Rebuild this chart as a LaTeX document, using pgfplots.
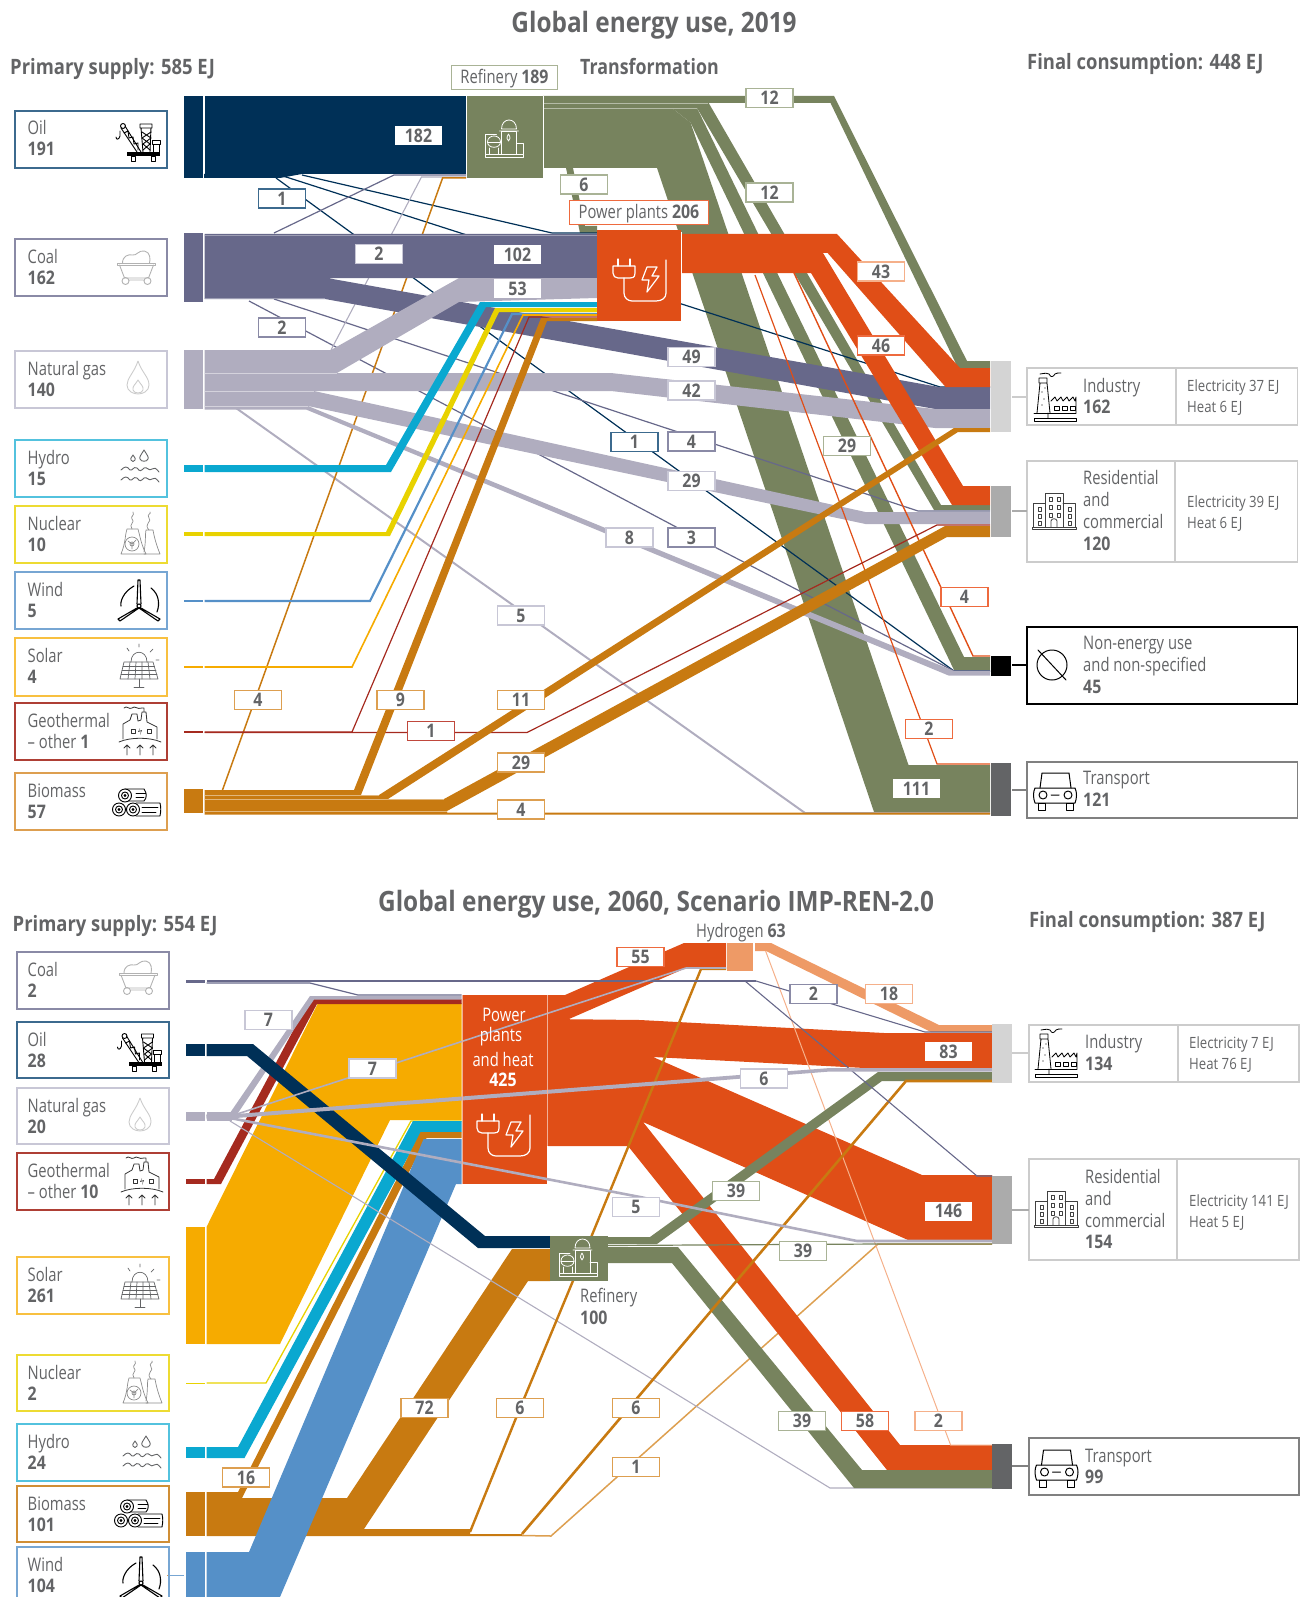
\documentclass[border=0pt]{standalone}
\usepackage{fontspec}
\setmainfont[FakeStretch=0.85]{Open Sans}
\newfontfamily\bodyf[FakeStretch=0.79,BoldFeatures={FakeStretch=0.85}]{Open Sans}
\newfontfamily\headf[FakeStretch=0.87]{Open Sans}
\usepackage{pgfplots}
\pgfplotsset{compat=1.18}

\definecolor{navy}{HTML}{003057}
\definecolor{coal}{HTML}{67688A}
\definecolor{gas}{HTML}{B0ADBF}
\definecolor{ref}{HTML}{77835E}
\definecolor{elec}{HTML}{E04E17}
\definecolor{bio}{HTML}{C87A11}
\definecolor{hydro}{HTML}{0AA8D0}
\definecolor{nuc}{HTML}{E8D200}
\definecolor{wind}{HTML}{5590C8}
\definecolor{solar}{HTML}{F6AB00}
\definecolor{geo}{HTML}{A52A1F}
\definecolor{hyd}{HTML}{EE9A66}
\definecolor{txt}{HTML}{636466}
\definecolor{bnavy}{HTML}{3C6A8E}
\definecolor{bcoal}{HTML}{8A8AA6}
\definecolor{bgas}{HTML}{C8C7D6}
\definecolor{bref}{HTML}{A9B396}
\definecolor{belec}{HTML}{EE6A3E}
\definecolor{bbio}{HTML}{DD9F50}
\definecolor{bgeo}{HTML}{C0483C}
\definecolor{bhyd}{HTML}{F5B08A}

\newcommand{\band}[2]{\addplot[fill=#1,draw=none,forget plot] coordinates {#2} --cycle;}
\newcommand{\flow}[3]{\addplot[draw=#1,line width=#2,forget plot] coordinates {#3};}
\newcommand{\lab}[4]{\node[draw=#3,fill=white,line width=1.2pt,minimum width=47pt,minimum height=19pt,inner sep=0pt,font=\fontsize{18.7}{20}\selectfont\bodyf\bfseries,text=txt] at (axis cs:#1,#2) {#4};}
\newcommand{\plainlab}[3]{\node[fill=white,minimum width=47pt,minimum height=19pt,inner sep=0pt,font=\fontsize{18.7}{20}\selectfont\bodyf\bfseries,text=txt] at (axis cs:#1,#2) {#3};}
\newcommand{\tx}[3]{\node[anchor=base west,inner sep=0pt,font=\fontsize{18.7}{20}\selectfont\bodyf,text=txt] at (axis cs:#1,#2) {#3};}
\newcommand{\sm}[3]{\node[anchor=base west,inner sep=0pt,font=\fontsize{15.5}{18}\selectfont,text=txt] at (axis cs:#1,#2) {#3};}
\newcommand{\hd}[3]{\node[anchor=base west,inner sep=0pt,font=\fontsize{21.2}{24}\selectfont\headf\bfseries,text=txt] at (axis cs:#1,#2) {#3};}
\newcommand{\frameb}[5]{\draw[#5,line width=1.2pt] (axis cs:#1,#2) rectangle (axis cs:#3,#4);}
\newcommand{\srcb}[7]{\frameb{#1}{#3}{#2}{#4}{#5}
  \pgfmathsetmacro{\tmpx}{#1+10.5}
  \tx{\tmpx}{\numexpr#3+24\relax}{#6}
  \tx{\tmpx}{\numexpr#3+45\relax}{\textbf{#7}}
  \pgfmathsetmacro{\tmpy}{(#3+#4)/2}
  \draw[#5,line width=1.2pt] (axis cs:#2,\tmpy) -- (axis cs:#2+15,\tmpy);}
\newcommand{\icon}[3]{\path (axis cs:#1,#2) pic {#3};}

\tikzset{
  ic/.style={x=1pt,y=-1pt,line width=.9pt,line join=round,line cap=round},
  oilic/.pic={\begin{scope}[ic,black]
    \fill (-11,12) rectangle (22,16);
    \draw (-7,16) rectangle (-3,21) (13,16) rectangle (17,21);
    \draw (-17,-12) -- (-1,12) (-13,-14) -- (3,12);
    \draw (-14,-7) -- (-10,-9) -- (-9,-2) -- (-5,-3) -- (-4,4) -- (0,3) -- (0,10);
    \draw (-15,-14) circle (2.5pt);
    \draw (-18,-9) -- (-18,-4) .. controls (-19,0) and (-22,0) .. (-22,-3);
    \draw (3,-12) -- (5,12) (13,-12) -- (12,12) (2,-16) rectangle (14,-12);
    \draw (4,-8) -- (13,-2) -- (5,4) -- (12,10) (13,-8) -- (4,-2) -- (12,4) -- (5,10);
    \draw (14,0) rectangle (22,4) (15,4) rectangle (21,12);
  \end{scope}},
  coalic/.pic={\begin{scope}[ic,draw=black!30]
    \draw (-19,-5) -- (19,-5) -- (19,-3) -- (-19,-3) -- cycle;
    \draw (-17,-3) -- (-12,10) -- (12,10) -- (17,-3);
    \draw (-14,-5) .. controls (-14,-12) and (-8,-14) .. (-4,-13) .. controls (0,-12) and (2,-18) .. (8,-17) .. controls (14,-16) and (14,-8) .. (13,-5);
    \draw (-11,13) circle (3.5pt) (11,13) circle (3.5pt) (-7,12) -- (7,12);
  \end{scope}},
  flameic/.pic={\begin{scope}[ic,draw=black!20]
    \draw (0,-17) .. controls (-4,-5) and (-11,0) .. (-11,7) .. controls (-11,13) and (-5,16) .. (0,16) .. controls (5,16) and (11,13) .. (11,7) .. controls (11,-1) and (4,-5) .. (0,-17);
    \draw (0,2) .. controls (-2,6) and (-6,8) .. (-5,12) .. controls (-4,16) and (4,16) .. (5,12) .. controls (6,8) and (2,6) .. (0,2);
  \end{scope}},
  hydroic/.pic={\begin{scope}[ic,draw=txt]
    \draw (4,-18) .. controls (1,-13) and (-1,-11) .. (0,-9) .. controls (1,-6) and (7,-6) .. (8,-9) .. controls (9,-11) and (7,-13) .. (4,-18);
    \draw (-7,-13) .. controls (-9,-10) and (-10,-9) .. (-9,-8) .. controls (-8,-6) and (-6,-6) .. (-5,-8) .. controls (-4,-9) and (-5,-10) .. (-7,-13);
    \foreach \yy in {2,12} {\draw (-19,\yy) .. controls (-15,\yy-4) and (-13,\yy-4) .. (-10,\yy) .. controls (-7,\yy+1) and (-7,\yy-4) .. (-3,\yy-2) .. controls (0,\yy+2) and (1,\yy+1) .. (4,\yy-2) .. controls (7,\yy-4) and (9,\yy+2) .. (12,\yy-1) .. controls (14,\yy-3) and (16,\yy-2) .. (19,\yy+2);}
  \end{scope}},
  nucic/.pic={\begin{scope}[ic,draw=black!45,line width=.7pt]
    \draw (-19,20) .. controls (-14,8) and (-15,0) .. (-13,-5) -- (-2,-5) .. controls (0,2) and (1,10) .. (6,20) -- cycle;
    \draw (4,18) .. controls (6,8) and (5,0) .. (6,-4) -- (13,-4) .. controls (14,2) and (16,10) .. (20,20) -- (4,20);
    \draw (-8,10) circle (7pt) (-8,10) circle (2pt) (-8,10) -- (-4,6) (-8,10) -- (-12,7) (-8,10) -- (-8,15);
    \draw (-8,-5) .. controls (-12,-10) and (-4,-12) .. (-8,-15) .. controls (-10,-18) and (-5,-18) .. (-7,-22);
    \draw (9,-4) .. controls (3,-10) and (13,-13) .. (9,-16) .. controls (6,-20) and (12,-20) .. (10,-22) ;
  \end{scope}},
  windic/.pic={\begin{scope}[ic,black,line width=1.1pt]
    \draw (0,6) circle (2pt);
    \draw (-2,4) -- (-1,-20) -- (1,-20) -- (2,4);
    \draw (-2,8) -- (-21,19) -- (-19,21) -- (0,8);
    \draw (2,8) -- (21,19) -- (19,21) -- (0,8);
    \draw (-5,-14) .. controls (-16,-8) and (-19,2) .. (-18,6);
    \draw (12,-12) .. controls (20,-6) and (21,4) .. (18,12);
  \end{scope}},
  solaric/.pic={\begin{scope}[ic,draw=txt,line width=.7pt]
    \draw (-15,-5) -- (14,-5) -- (19,12) -- (-19,12) -- cycle;
    \draw (-17,3) -- (17,3) (-16,-1) -- (15.5,-1) (-18,7) -- (18,7);
    \draw (-9,-5) -- (-11,12) (-3,-5) -- (-4,12) (3,-5) -- (3,12) (9,-5) -- (11,12);
    \draw (0,12) -- (0,20) (-5,20) -- (5,20);
    \draw (-8,-5) .. controls (-8,-18) and (8,-18) .. (8,-5);
    \draw (0,-20) -- (0,-23) (-10,-16) -- (-12,-19) (11,-15) -- (14,-18) (17,-7) -- (20,-7);
  \end{scope}},
  geoic/.pic={\begin{scope}[ic,draw=black!80,line width=.8pt]
    \draw (-17,7) -- (-17,-8) -- (-10,-12) -- (-8,-18) -- (-3,-18) -- (-2,-11) -- (1,-12) -- (2,-20) -- (6,-20) -- (7,-10) -- (17,-5) -- (17,7);
    \draw (-9,-3) rectangle (-5,1) (7,-3) rectangle (11,1);
    \fill[black!80] (0,-4) -- (-2,0) -- (1,-1) -- (0,3) -- (2,-2) -- (-1,-1) -- cycle;
    \draw (-21,10) .. controls (-10,5) and (10,5) .. (21,10);
    \draw (-13,23) -- (-13,13) (-16,16) -- (-13,13) -- (-10,16);
    \draw (0,23) -- (0,13) (-3,16) -- (0,13) -- (3,16);
    \draw (13,23) -- (13,13) (10,16) -- (13,13) -- (16,16);
    \draw (-16,-24) .. controls (-13,-27) and (-11,-22) .. (-8,-24) .. controls (-5,-27) and (-3,-22) .. (2,-24) -- (4,-24) -- (4,-20);
  \end{scope}},
  bioic/.pic={\begin{scope}[ic,black]
    \draw (-11,-13) -- (8,-13) .. controls (11,-9) and (11,-4) .. (8,-1) -- (-11,-1);
    \fill[white] (-11,-6.5) circle (6.5pt);
    \draw (-11,-6.5) circle (6.5pt) (-11,-6.5) circle (3.5pt) (-11,-6.5) circle (1pt);
    \draw (0,1) -- (24,1) .. controls (25,5) and (25,9) .. (24,14) -- (0,14);
    \fill[white] (-3,7.5) circle (6.5pt);
    \draw (-3,7.5) circle (6.5pt) (-3,7.5) circle (3.5pt) (-3,7.5) circle (1pt);
    \fill[white] (-17,7.5) circle (6.5pt);
    \draw (-17,7.5) circle (6.5pt) (-17,7.5) circle (3.5pt) (-17,7.5) circle (1pt);
    \draw (6,5) -- (22,5) (6,10) -- (20,10) (0,-9) -- (10,-9) (0,-5) -- (8,-5);
  \end{scope}},
  factic/.pic={\begin{scope}[ic,black,line width=.8pt]
    \draw (-21,21) rectangle (21,24) (-21,16) -- (21,16);
    \draw (-18,16) -- (-15,-14) -- (-8,-14) -- (-5,16) (-16,-14) rectangle (-8,-19) (-7,21) -- (-7,16);
    \draw (-4,4) -- (0,0) -- (2,4) -- (6,0) -- (8,4) -- (12,0) -- (14,4) -- (18,0) -- (20,4) -- (21,0) -- (21,16);
    \draw (-1,9) rectangle (4,13) (7,9) rectangle (12,13) (15,9) rectangle (20,13);
    \draw (-15,-23) .. controls (-9,-24) and (-8,-24) .. (-6,-23) .. controls (-4,-19) and (-2,-20) .. (0,-23) .. controls (1,-24) and (3,-24) .. (6,-24);
    \fill (-13,-5) circle (.6pt) (-11,2) circle (.6pt) (-13,8) circle (.6pt) (-10,-9) circle (.6pt);
  \end{scope}},
  buildic/.pic={\begin{scope}[ic,draw=black!75,line width=.8pt]
    \draw (-22,17) rectangle (22,19);
    \draw (-21,17) -- (-21,-7) -- (-9,-7) (9,-7) -- (21,-7) -- (21,17);
    \draw (-9,17) -- (-9,-17) -- (9,-17) -- (9,17);
    \foreach \yy in {-13,-5,3} {\draw (-5,\yy) rectangle (-2,\yy+4) (3,\yy) rectangle (6,\yy+4);}
    \foreach \yy in {-3,4,11} {\draw (-16,\yy) rectangle (-13,\yy+4) (14,\yy) rectangle (17,\yy+4);}
    \draw (-3,17) -- (-3,11) .. controls (-3,8) and (3,8) .. (3,11) -- (3,17);
  \end{scope}},
  nonic/.pic={\begin{scope}[ic,black,line width=1pt]
    \draw (0,0) circle (15pt);
    \draw (-14,-15) -- (14,15);
  \end{scope}},
  caric/.pic={\begin{scope}[ic,black,line width=1pt]
    \draw (-15,-2) -- (-13,-17) -- (14,-17) -- (16,-2);
    \draw (-20,-2) -- (20,-2) .. controls (22,2) and (22,8) .. (20,13) -- (-20,13) .. controls (-22,8) and (-22,2) .. (-20,-2);
    \draw (-12,5) circle (4pt) (13,5) circle (4pt) (-4,5) -- (4,5);
    \draw (-17,13) rectangle (-10,20) (11,13) rectangle (18,20);
  \end{scope}},
  plugic/.pic={\begin{scope}[ic,white,line width=1.2pt]
    \draw (-26,-11) -- (-4,-11) -- (-4,-4) .. controls (-4,1) and (-7,1) .. (-9,1) -- (-21,1) .. controls (-24,1) and (-26,-1) .. (-26,-4) -- cycle;
    \draw (-21,-11) -- (-21,-18) (-9,-11) -- (-9,-18);
    \draw (-15,1) -- (-15,16) .. controls (-15,21) and (-11,24) .. (-7,24) -- (17,24) .. controls (23,24) and (27,21) .. (27,16) -- (27,-17);
    \draw (8,-10) -- (18,-10) -- (13,-1) -- (20,-1) -- (8,15) -- (10,3) -- (3,3) -- cycle;
  \end{scope}},
  refic/.pic={\begin{scope}[ic,white,line width=.8pt]
    \draw (-19,18) rectangle (19,15) (-19,15) -- (-19,-5) -- (-8,-5);
    \draw (-3,15) -- (-3,-8) -- (12,-8) -- (12,15);
    \draw (-5,-8) -- (14,-8) (-3,-10) .. controls (-3,-22) and (12,-22) .. (12,-10) -- (-3,-10);
    \draw (12,4) -- (19,4) -- (19,15);
    \draw (-17,3) .. controls (-17,-5) and (-4,-5) .. (-4,3) .. controls (-4,10) and (-17,10) .. (-17,3);
    \draw (-17,3) -- (-4,3) (-15,9) -- (-15,15) (-6,9) -- (-6,15);
    \draw (4,-5) .. controls (2,-2) and (2,1) .. (4,2) .. controls (6,1) and (6,-2) .. (4,-5);
  \end{scope}},
  refsm/.pic={\begin{scope}[scale=.84]\pic {refic};\end{scope}}
}

\begin{document}
\begin{tikzpicture}
\useasboundingbox (0,0) rectangle (1302pt,1597pt);
\begin{axis}[
  at={(0,0)}, anchor=south west,
  scale only axis, width=1302pt, height=1597pt,
  xmin=0, xmax=1302, ymin=0, ymax=1597, y dir=reverse,
  hide axis, clip=false,
]

%% ---------- 2019 ----------
% refinery outputs
\band{ref}{(543,96)(834,96)(967,361)(990,361)(990,368)(958,368)(830.5,103)(543,103)}
\band{ref}{(543,103)(708.7,103)(941,505)(990,505)(990,510)(934,510)(697,108)(543,108)}
\band{ref}{(543,108)(697,108)(964,657)(990,657)(990,670)(954,670)(690.6,122.7)(672,108)}
\band{ref}{(543,108)(672,108)(690.6,122.7)(908.5,765)(990,765)(990,812)(874,812)(657,168)(543,168)}
\band{ref}{(566,168)(573,168)(585,226)(597,226)(597,233)(580,233)}
\flow{white!45!ref}{.7pt}{(543,103)(708,103)}
\flow{white!45!ref}{.7pt}{(543,108)(697,108)}
% thin lines that run under the wide bands
\band{navy}{(204,174)(302,174)(280,178)(204,178)}
\flow{navy}{1.2pt}{(276,178)(954,671)(990,671)}
\flow{navy}{1.2pt}{(283,176)(940,387)(990,387)}
\flow{navy}{1.2pt}{(302,175)(552,233)(597,233)}
\flow{coal}{1.2pt}{(274,233)(394,175)(466,175)}
\flow{coal}{1.2pt}{(274,299)(678,432)(918,511)(990,511)}
\flow{coal}{1.2pt}{(249,301)(678,528)(954,671)(990,671)}
\flow{gas}{1.1pt}{(331,350)(421.5,177)(466,177)}
\flow{gas}{2pt}{(236,408)(805,813)(990,813)}
\flow{bio}{1.5pt}{(222.5,790)(442.6,178)(466,178)}
% primary bands
\band{navy}{(204.5,96)(466,96)(466,174)(204.5,174)}
\band{coal}{(204.5,234)(597,234)(597,278)(327,278)(939,387)(990,387)(990,409)(935,409)(325,299)(204.5,299)}
\band{gas}{(204.5,350)(331,350)(459,278)(597,278)(597,298)(459,302)(337,373)(204.5,373)}
\band{gas}{(204.5,373)(611,373)(935,409)(990,409)(990,428)(935,428)(611,391)(204.5,391)}
\band{gas}{(204.5,391)(314,391)(865.5,512)(990,512)(990,524)(865.5,524)(308,406)(204.5,406)}
\band{gas}{(204.5,406)(308,406)(954,671)(990,671)(990,675.7)(949,675.7)(306,409.5)(204.5,409.5)}
\flow{white!45!gas}{.7pt}{(204.5,373)(337,373)}
\flow{white!45!gas}{.7pt}{(204.5,391)(314,391)}
\flow{white!45!gas}{.7pt}{(204.5,406)(308,406)}
\flow{white!35!coal}{.7pt}{(204.5,235)(597,235)}
\flow{white!35!coal}{.7pt}{(204.5,298.5)(325,298.5)}
% source bars
\band{navy}{(184,96)(203,96)(203,178)(184,178)}
\band{coal}{(184,233)(203,233)(203,302)(184,302)}
\band{gas}{(184,350)(203,350)(203,409)(184,409)}
\band{hydro}{(184,465)(203,465)(203,472)(184,472)}
\band{nuc}{(184,532)(203,532)(203,536)(184,536)}
\band{wind}{(184,600)(203,600)(203,602)(184,602)}
\band{solar}{(184,666)(203,666)(203,668)(184,668)}
\band{geo}{(184,731)(203,731)(203,733)(184,733)}
\band{bio}{(184,789)(203,789)(203,813)(184,813)}
% electricity
\band{elec}{(681,234)(837,234)(960,368)(990,368)(990,387)(945.6,387)(827.6,253)(681,253)}
\band{elec}{(681,253)(823,253)(963,486)(990,486)(990,505)(952,505)(811,273)(681,273)}
\flow{elec}{1.4pt}{(794,273)(973,656)(990,656)}
\flow{elec}{1.2pt}{(755,275)(937,764)(990,764)}
% renewables and biomass
\band{hydro}{(204.5,465)(386,465)(480,302)(597,302)(597,307)(486,307)(391,472)(204.5,472)}
\band{nuc}{(204.5,532)(386,532)(495,308)(597,308)(597,312)(499,312)(390,536)(204.5,536)}
\flow{wind}{2.2pt}{(204.5,601)(370,601)(512,314)(597,314)}
\flow{solar}{1.6pt}{(204.5,667)(352,667)(523,315)(597,315)}
\flow{geo}{1.2pt}{(204.5,732)(352,732)(529,317)(597,317)}
\flow{geo}{1.2pt}{(204.5,732.5)(527,732.5)(937,525)(990,525)}
\band{bio}{(204.5,790)(354,790)(541,318)(597,318)(597,321)(547,321)(361,795)(204.5,795)}
\band{bio}{(204.5,795)(379,795)(954,428)(990,428)(990,432)(958,432)(388,799)(204.5,799)}
\band{bio}{(204.5,799)(444,799)(945,526)(990,526)(990,537)(947,537)(447,811)(204.5,811)}
\band{bio}{(204.5,811)(447,811)(447,812.5)(990,812.5)(990,814.5)(204.5,814.5)}
\flow{white!45!bio}{.7pt}{(204.5,795)(379,795)}
\flow{white!45!bio}{.7pt}{(204.5,799)(444,799)}
\flow{white!45!bio}{.7pt}{(204.5,811)(447,811)}
% transformation and final bars
\band{navy}{(204.5,96)(466,96)(466,174)(204.5,174)}
\band{ref}{(467,96)(543,96)(543,178)(467,178)}
\band{elec}{(597,230)(681,230)(681,320.7)(597,320.7)}
\band{black!17}{(991,361)(1011,361)(1011,432)(991,432)}
\band{black!33}{(991,486)(1011,486)(1011,537)(991,537)}
\band{black}{(991,656)(1011,656)(1011,676)(991,676)}
\band{txt}{(991,763)(1011,763)(1011,816)(991,816)}
\flow{white}{.8pt}{(543.5,96)(543.5,168)}
\flow{white}{.8pt}{(681.5,232)(681.5,275)}
\icon{504.5}{139}{refic}
\icon{639}{277}{plugic}

\node[font=\fontsize{28}{30}\selectfont\headf\bfseries,text=txt,inner sep=0pt] at (axis cs:654,25.5) {Global energy use, 2019};
\hd{10}{74.5}{Primary supply: 585 EJ}
\hd{580}{74.5}{\scalebox{.965}[1]{Transformation}}
\hd{1027}{69.5}{Final consumption: 448 EJ}

\srcb{15}{167}{111}{168}{bnavy}{Oil}{191}
\srcb{15}{167}{239}{296}{bcoal}{Coal}{162}
\srcb{15}{167}{351}{408}{bgas}{Natural gas}{140}
\srcb{15}{167}{440}{497}{hydro!70}{Hydro}{15}
\srcb{15}{167}{506}{563}{nuc!80}{Nuclear}{10}
\srcb{15}{167}{572}{629}{wind!80}{Wind}{5}
\srcb{15}{167}{638}{696}{solar!75}{Solar}{4}
\srcb{15}{167}{703}{760}{geo!90}{Geothermal}{{\mdseries – other }1}
\srcb{15}{167}{773}{830}{bbio}{Biomass}{57}
\icon{138}{140}{oilic}
\icon{136.5}{268}{coalic}
\icon{138}{378}{flameic}
\icon{140}{468}{hydroic}
\icon{140}{534}{nucic}
\icon{139}{600}{windic}
\icon{139}{667}{solaric}
\icon{140}{732}{geoic}
\icon{136}{802}{bioic}

% refinery and plant captions
\node[draw=bref,fill=white,line width=1.2pt,minimum width=106pt,minimum height=24pt,inner sep=0pt,font=\fontsize{18.7}{20}\selectfont\bodyf,text=txt,text height=13pt,text depth=0pt] at (axis cs:504.5,77.5) {Refinery \textbf{189}};
\node[draw=belec,fill=white,line width=1.2pt,minimum width=139pt,minimum height=24pt,inner sep=0pt,font=\fontsize{18.7}{20}\selectfont\bodyf,text=txt,text height=13pt,text depth=0pt] at (axis cs:639,212.5) {Power plants \textbf{206}};

% final boxes
\frameb{1027}{368}{1297.5}{425}{black!20}
\draw[black!20,line width=1.2pt] (axis cs:1176,368) -- (axis cs:1176,425);
\draw[black!20,line width=1.2pt] (axis cs:1012,397) -- (axis cs:1027,397);
\tx{1083}{392}{Industry}\tx{1083}{413}{\textbf{162}}
\sm{1187}{391}{Electricity 37 EJ}\sm{1187}{412}{Heat 6 EJ}
\frameb{1027}{461}{1297.5}{562}{black!20}
\draw[black!20,line width=1.2pt] (axis cs:1175,461) -- (axis cs:1175,562);
\draw[black!33,line width=1.2pt] (axis cs:1012,511) -- (axis cs:1027,511);
\tx{1083}{484}{Residential}\tx{1083}{506}{and}\tx{1083}{528}{commercial}\tx{1083}{550}{\textbf{120}}
\sm{1187}{507}{Electricity 39 EJ}\sm{1187}{528}{Heat 6 EJ}
\frameb{1027}{627}{1297.5}{704}{black}
\draw[black,line width=1.2pt] (axis cs:1012,665) -- (axis cs:1027,665);
\tx{1083}{649}{Non-energy use}\tx{1083}{671}{and non-specified}\tx{1083}{693}{\textbf{45}}
\frameb{1027}{762}{1297.5}{818}{black!50}
\draw[black!50,line width=1.2pt] (axis cs:1012,790) -- (axis cs:1027,790);
\tx{1083}{784}{Transport}\tx{1083}{806}{\textbf{121}}
\icon{1055}{397}{factic}
\icon{1054}{510}{buildic}
\icon{1052}{665}{nonic}
\icon{1055}{790}{caric}

% value labels
\plainlab{418.5}{136}{182}
\plainlab{517.5}{255}{102}
\plainlab{517.5}{288.5}{53}
\plainlab{916.5}{788.5}{111}
\lab{769.5}{98}{bref}{12}
\lab{769.5}{192.5}{bref}{12}
\lab{584}{184.5}{bref}{6}
\lab{881}{271.5}{bhyd}{43}
\lab{881}{345.5}{belec}{46}
\lab{691.5}{357}{bgas}{49}
\lab{691.5}{390.5}{bgas}{42}
\lab{847}{446}{bref}{29}
\lab{634.5}{442}{bnavy}{1}
\lab{691.5}{441.5}{bcoal}{4}
\lab{691.5}{481}{bgas}{29}
\lab{691.5}{537.5}{bcoal}{3}
\lab{629.5}{537.5}{bgas}{8}
\lab{964.5}{597}{belec}{4}
\lab{521}{615.5}{bgas}{5}
\lab{929}{729}{belec}{2}
\lab{258}{700}{bbio}{4}
\lab{400.5}{700}{bbio}{9}
\lab{521}{700}{bbio}{11}
\lab{431}{731}{bgeo}{1}
\lab{521}{762.5}{bbio}{29}
\lab{521}{809.5}{bbio}{4}
\lab{282}{198.5}{bnavy}{1}
\lab{379}{254}{bgas}{2}
\lab{282}{327.5}{bcoal}{2}

%% ---------- 2060 ----------
\band{solar}{(206.5,1227)(318,1003)(461.5,1003)(461.5,1120)(390,1120)(280,1344)(206.5,1344)}
\band{geo}{(206.5,1179)(214,1179)(310,999)(461.5,999)(461.5,1004)(317,1004)(221,1184)(206.5,1184)}
\band{gas}{(230,1113)(310,996)(461.5,996)(461.5,999.5)(314,999.5)(236,1116)}
\flow{coal}{1.2pt}{(206.5,983)(310,983)(358,995)(461.5,995)}
\flow{nuc}{1.3pt}{(206.5,1383)(266,1383)(411,1121)(461.5,1121)}
\band{hydro}{(206.5,1447)(238,1447)(413,1121)(461.5,1121)(461.5,1132)(421.5,1132)(244.5,1458)(206.5,1458)}
\band{bio}{(206.5,1492)(238,1492)(420.6,1132)(461.5,1132)(461.5,1138)(426.5,1138)(242,1498)(347,1498)(512,1249)(550,1249)(550,1281)(528,1281)(364,1529)(470,1529)(470,1534)(522,1534)(522,1536)(206.5,1536)}
\flow{bbio}{1.5pt}{(522,1535.5)(551,1536)(878,1244)(992,1244)}
\band{wind}{(206.5,1552)(249,1552)(423.6,1139)(461.5,1139)(461.5,1184)(456,1184)(280,1597)(206.5,1597)}
\flow{gas}{1.1pt}{(230,1121)(830,1488)(992,1488)}
% power plant outputs
\band{elec}{(548,995)(565,995)(684,943)(726,943)(726,968)(686,968)(569,1019)(548,1019)}
\band{elec}{(548,1019)(640,1020)(884,1033)(992,1033)(992,1069)(884,1069)(653,1057)(922,1175)(992,1175)(992,1240)(908,1240)(643,1122)(900,1445)(992,1445)(992,1470)(887,1470)(628,1146)(548,1146)}
\band{elec}{(462,995)(547,995)(547,1184)(462,1184)}
% hydrogen
\band{hyd}{(755,943)(771,943)(939,1025)(992,1025)(992,1032)(931,1032)(766,951)(755,951)}
\flow{bhyd}{1pt}{(765.6,951)(950.6,1445)(992,1445)}
% refinery outputs
\flow{ref}{1.2pt}{(607,1245.5)(878,1244)(992,1244)}
\band{ref}{(607,1237)(650,1237)(878,1072)(992,1072)(992,1081)(882,1081)(657,1244)(607,1244)}
\band{ref}{(607,1247)(678,1247)(862,1470)(992,1470)(992,1488)(854,1488)(672,1263)(607,1263)}
% biomass lines over the electricity bands
\flow{bio}{2.4pt}{(470,1532)(516,1418)(592,1235)(661,1067)(701,969)(726,969)}
\flow{bio}{2.6pt}{(522,1534)(906,1081)(992,1081)}
% oil
\band{navy}{(206.5,1044)(253,1044)(485,1236)(550,1236)(550,1248)(478,1248)(247,1056)(206.5,1056)}
% coal and gas lines
\flow{coal}{2.4pt}{(206.5,981)(745,981)(756,981)}
\flow{coal}{1.1pt}{(745,981)(977,1176)(992,1176)}
\flow{coal}{1.1pt}{(756,981)(925,1032)(992,1032)}
\flow{gas}{1.6pt}{(206.5,1116)(234,1115)(348,1078)(396,1063)(686,968)(726,968)}
\band{gas}{(206.5,1114)(236,1114)(661,1081)(830,1068)(992,1068)(992,1071.5)(830,1071.5)(661,1085)(236,1118)(206.5,1118)}
\flow{gas}{2.6pt}{(206.5,1118)(230,1118)(640,1197)(857,1241)(992,1241)}
% source bars and boxes
\band{coal}{(186,979.5)(204.5,979.5)(204.5,983)(186,983)}
\band{navy}{(186,1044)(204.5,1044)(204.5,1056)(186,1056)}
\band{gas}{(186,1112)(204.5,1112)(204.5,1121)(186,1121)}
\band{gas}{(206.5,1112)(232,1112)(232,1121)(206.5,1121)}
\band{geo}{(186,1179)(204.5,1179)(204.5,1184)(186,1184)}
\band{solar}{(186,1227)(204.5,1227)(204.5,1344)(186,1344)}
\band{nuc}{(186,1382.5)(204.5,1382.5)(204.5,1384)(186,1384)}
\band{hydro}{(186,1447)(204.5,1447)(204.5,1458)(186,1458)}
\band{bio}{(186,1492)(204.5,1492)(204.5,1536)(186,1536)}
\band{wind}{(186,1552)(204.5,1552)(204.5,1597)(186,1597)}
\band{hyd}{(727,943)(753,943)(753,971)(727,971)}
\band{ref}{(550,1236)(607.5,1236)(607.5,1281)(550,1281)}
\band{black!17}{(992,1024)(1012,1024)(1012,1083)(992,1083)}
\band{black!33}{(992,1176)(1012,1176)(1012,1244)(992,1244)}
\band{txt}{(992,1444)(1012,1444)(1012,1489)(992,1489)}
\flow{white!55!elec}{.8pt}{(547.5,995)(547.5,1146)}
\flow{white!55!elec}{.8pt}{(462,995)(462,1184)}
\icon{503}{1132}{plugic}
\icon{578}{1258}{refsm}
\node[font=\fontsize{18.7}{20}\selectfont\bodyf,text=white,inner sep=0pt] at (axis cs:504,1015) {Power};
\node[font=\fontsize{18.7}{20}\selectfont\bodyf,text=white,inner sep=0pt] at (axis cs:501,1037) {plants};
\node[font=\fontsize{18.7}{20}\selectfont\bodyf,text=white,inner sep=0pt] at (axis cs:503,1059) {and heat};
\node[font=\fontsize{18.7}{20}\selectfont\bodyf\bfseries,text=white,inner sep=0pt] at (axis cs:503,1079.5) {425};

\node[font=\fontsize{28}{30}\selectfont\headf\bfseries,text=txt,inner sep=0pt] at (axis cs:656,904.5) {Global energy use, 2060, Scenario IMP-REN-2.0};
\hd{12.5}{931.5}{Primary supply: 554 EJ}
\hd{1029}{927.5}{Final consumption: 387 EJ}
\tx{696}{937}{Hydrogen \textbf{63}}
\tx{580}{1302}{Refinery}
\tx{580}{1324}{\textbf{100}}

\srcb{17}{169}{952}{1009}{bcoal}{Coal}{2}
\srcb{17}{169}{1022}{1078}{bnavy}{Oil}{28}
\srcb{17}{169}{1088}{1144}{bgas}{Natural gas}{20}
\srcb{17}{169}{1153}{1210}{geo!90}{Geothermal}{{\mdseries – other }10}
\srcb{17}{169}{1257}{1314}{solar!75}{Solar}{261}
\srcb{17}{169}{1355}{1411}{nuc!80}{Nuclear}{2}
\srcb{17}{169}{1424}{1481}{hydro!70}{Hydro}{24}
\srcb{17}{169}{1486}{1542}{bio!85}{Biomass}{101}
\srcb{17}{169}{1547}{1604}{wind!80}{Wind}{104}
\icon{138}{978}{coalic}
\icon{139.5}{1050}{oilic}
\icon{140}{1115}{flameic}
\icon{142}{1182}{geoic}
\icon{140}{1287}{solaric}
\icon{142}{1383}{nucic}
\icon{142}{1454}{hydroic}
\icon{138}{1513}{bioic}
\icon{141}{1577}{windic}

\frameb{1029}{1025}{1299}{1082}{black!20}
\draw[black!20,line width=1.2pt] (axis cs:1178,1025) -- (axis cs:1178,1082);
\draw[black!20,line width=1.2pt] (axis cs:1012,1053) -- (axis cs:1029,1053);
\tx{1085}{1048}{Industry}\tx{1085}{1070}{\textbf{134}}
\sm{1189}{1048}{Electricity 7 EJ}\sm{1189}{1069}{Heat 76 EJ}
\frameb{1029}{1159}{1299}{1260}{black!20}
\draw[black!20,line width=1.2pt] (axis cs:1177,1159) -- (axis cs:1177,1260);
\draw[black!33,line width=1.2pt] (axis cs:1012,1210) -- (axis cs:1029,1210);
\tx{1085}{1183}{Residential}\tx{1085}{1205}{and}\tx{1085}{1227}{commercial}\tx{1085}{1248}{\textbf{154}}
\sm{1189}{1206}{Electricity 141 EJ}\sm{1189}{1227}{Heat 5 EJ}
\frameb{1029}{1438}{1299}{1495}{black!50}
\draw[black!50,line width=1.2pt] (axis cs:1012,1466) -- (axis cs:1029,1466);
\tx{1085}{1462}{Transport}\tx{1085}{1483}{\textbf{99}}
\icon{1056}{1053}{factic}
\icon{1056}{1208}{buildic}
\icon{1056.5}{1467}{caric}

\plainlab{948.5}{1051.5}{83}
\plainlab{948.5}{1211}{146}
\lab{268.5}{1020}{bgas}{7}
\lab{372.5}{1068.5}{bgas}{7}
\lab{640.5}{957}{belec}{55}
\lab{813.5}{994}{bcoal}{2}
\lab{889}{994}{bhyd}{18}
\lab{764}{1078.5}{bgas}{6}
\lab{736}{1191}{bref}{39}
\lab{636}{1207}{bgas}{5}
\lab{803}{1251}{bref}{39}
\lab{246}{1477.5}{bbio}{16}
\lab{424.5}{1408}{bbio}{72}
\lab{520}{1408}{bbio}{6}
\lab{636}{1408}{bbio}{6}
\lab{636}{1467}{bbio}{1}
\lab{802}{1421}{bref}{39}
\lab{865}{1421}{belec}{58}
\lab{938.5}{1421}{bhyd}{2}

\end{axis}
\end{tikzpicture}
\end{document}
